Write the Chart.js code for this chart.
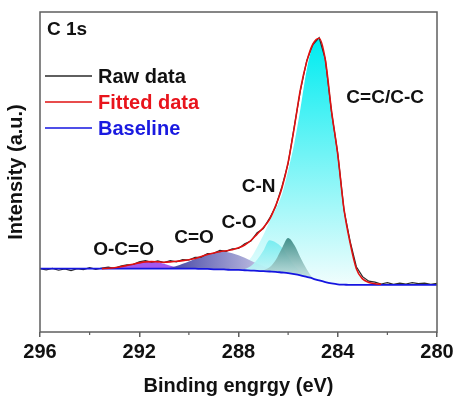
<!DOCTYPE html>
<html>
<head>
<meta charset="utf-8">
<script src="https://cdn.jsdelivr.net/npm/chart.js@4.4.0/dist/chart.umd.min.js"></script>
<style>
  html, body { margin: 0; padding: 0; background: #fff; }
</style>
</head>
<body>
<canvas id="chart" width="457" height="400"></canvas>
<script>
// binding energy (eV), 0.25 eV steps
const energy = [
  296, 295.75, 295.5, 295.25, 295, 294.75, 294.5, 294.25, 294, 293.75, 293.5, 293.25, 293,
  292.75, 292.5, 292.25, 292, 291.75, 291.5, 291.25, 291, 290.75, 290.5, 290.25, 290,
  289.75, 289.5, 289.25, 289, 288.75, 288.5, 288.25, 288, 287.75, 287.5, 287.25, 287,
  286.75, 286.5, 286.25, 286, 285.75, 285.5, 285.25, 285, 284.75, 284.5, 284.25, 284,
  283.75, 283.5, 283.25, 283, 282.75, 282.5, 282.25, 282, 281.75, 281.5, 281.25, 281,
  280.75, 280.5, 280.25, 280
];

const rawData = [
  19.8, 19.4, 19.9, 19.3, 19.7, 19.2, 19.8, 19.5, 20.1, 19.6, 20.0, 20.3, 19.9,
  20.6, 21.0, 21.1, 21.9, 22.3, 21.8, 22.2, 21.7, 22.3, 21.9, 22.6, 22.5,
  23.3, 23.4, 24.5, 24.6, 25.5, 25.2, 26.0, 26.1, 27.6, 28.4, 31.0, 32.3,
  35.5, 39.3, 45.4, 52.7, 64.3, 75.7, 84.8, 89.8, 92.0, 85.2, 68.7, 55.8,
  38.2, 28.3, 20.4, 17.3, 15.9, 15.6, 15.0, 15.4, 14.9, 15.3, 15.0, 15.4,
  15.1, 15.3, 14.9, 15.2
];

const fitted = [
  null, null, null, null, null, null, null, null, null, null, 19.8, 19.9, 20.1,
  20.4, 20.8, 21.2, 21.6, 21.9, 22.0, 21.9, 21.8, 21.9, 22.1, 22.3, 22.6,
  23.0, 23.6, 24.2, 24.7, 25.1, 25.4, 25.7, 26.3, 27.2, 28.6, 30.6, 32.6,
  35.2, 39.5, 45.0, 53.0, 64.0, 76.0, 84.5, 90.0, 91.8, 85.0, 69.0, 55.5,
  38.5, 27.8, 19.8, 16.6, 15.5, 15.1, 14.9, null, null, null, null, null,
  null, null, null, null
];

const baseline = [
  19.8, 19.8, 19.8, 19.8, 19.8, 19.8, 19.8, 19.8, 19.8, 19.8, 19.8, 19.8, 19.8,
  19.8, 19.8, 19.8, 19.8, 19.8, 19.8, 19.8, 19.8, 19.8, 19.8, 19.8, 19.8,
  19.8, 19.7, 19.7, 19.6, 19.6, 19.5, 19.4, 19.4, 19.3, 19.2, 19.1, 19.0,
  18.9, 18.8, 18.6, 18.4, 18.1, 17.7, 17.2, 16.7, 16.1, 15.6, 15.2, 14.9,
  14.8, 14.7, 14.7, 14.7, 14.7, 14.7, 14.7, 14.7, 14.7, 14.7, 14.7, 14.7,
  14.7, 14.7, 14.7, 14.7
];

// fitted components (drawn above the baseline)
const peakOCO = [
  null, null, null, null, null, null, null, null, null, null, 19.8, 19.9, 20.1,
  20.4, 20.8, 21.2, 21.6, 21.9, 22.0, 21.8, 21.3, 20.7, 20.2, 19.9, 19.8,
  null, null, null, null, null, null, null, null, null, null, null, null,
  null, null, null, null, null, null, null, null, null, null, null, null,
  null, null, null, null, null, null, null, null, null, null, null, null,
  null, null, null, null
];

const peakCdO = [
  null, null, null, null, null, null, null, null, null, null, null, null, null,
  null, null, null, null, null, null, null, 19.8, 20.1, 20.6, 21.3, 22.0,
  22.8, 23.5, 24.2, 24.7, 25.1, 25.0, 24.6, 24.0, 23.2, 22.3, 21.4, 20.6,
  19.9, 19.4, 18.9, 18.4, null, null, null, null, null, null, null, null,
  null, null, null, null, null, null, null, null, null, null, null, null,
  null, null, null, null
];

const peakCO = [
  null, null, null, null, null, null, null, null, null, null, null, null, null,
  null, null, null, null, null, null, null, null, null, null, null, null,
  null, null, null, null, null, null, null, 19.4, 19.7, 20.6, 22.6, 25.4,
  28.7, 28.0, 26.4, 23.5, 20.8, 18.9, 17.5, 16.7, null, null, null, null,
  null, null, null, null, null, null, null, null, null, null, null, null,
  null, null, null, null
];

const peakCN = [
  null, null, null, null, null, null, null, null, null, null, null, null, null,
  null, null, null, null, null, null, null, null, null, null, null, null,
  null, null, null, null, null, null, null, null, null, null, 19.1, 19.3,
  20.2, 22.5, 26.2, 29.4, 27.2, 23.2, 19.6, 16.9, 16.1, null, null, null,
  null, null, null, null, null, null, null, null, null, null, null, null,
  null, null, null, null
];

const peakCC = [
  null, null, null, null, null, null, null, null, null, null, null, null, null,
  null, null, null, null, null, null, null, null, null, null, null, null,
  null, null, null, null, 19.6, 19.8, 20.1, 20.6, 21.6, 23.2, 26.5, 30.2,
  34.5, 38.5, 43.0, 50.5, 59.0, 70.0, 82.0, 89.5, 91.5, 84.5, 69.0, 55.5,
  38.5, 27.8, 19.8, 16.4, 15.3, 14.9, 14.7, null, null, null, null, null,
  null, null, null, null
];

const xTicksMinor = [294, 290, 286, 282];

const peakNames = ['O-C=O', 'C=O', 'C-O', 'C-N', 'C=C/C-C'];
const peakLabelE = [292.63, 289.79, 287.98, 287.19, 282.09];
const peakLabelU = [25.6, 29.4, 34.1, 45.3, 73.1];

const FONT = '"Liberation Sans", Arial, sans-serif';

const pts = (vals) => energy.map((e, i) => ({ x: e, y: vals[i] }));

// vertical gradient between the top of a peak and the baseline
function vGrad(vals, top, bottom) {
  return (c) => {
    const chart = c.chart;
    if (!chart.chartArea) return bottom;
    const y = chart.scales.y;
    const hi = Math.max(...vals.filter(v => v !== null));
    const g = chart.ctx.createLinearGradient(0, y.getPixelForValue(hi), 0, y.getPixelForValue(15));
    g.addColorStop(0, top);
    g.addColorStop(1, bottom);
    return g;
  };
}

function hGrad(e0, e1, left, right) {
  return (c) => {
    const chart = c.chart;
    if (!chart.chartArea) return left;
    const x = chart.scales.x;
    const g = chart.ctx.createLinearGradient(x.getPixelForValue(e0), 0, x.getPixelForValue(e1), 0);
    g.addColorStop(0, left);
    g.addColorStop(1, right);
    return g;
  };
}

const comp = (label, vals, bg) => ({
  label: label,
  data: pts(vals),
  borderWidth: 0,
  borderColor: 'rgba(0,0,0,0)',
  backgroundColor: bg,
  fill: 1,
  pointRadius: 0,
  cubicInterpolationMode: 'monotone'
});

const decor = {
  id: 'decor',
  afterDraw(chart) {
    const { ctx, chartArea: a, scales: { x, y } } = chart;
    ctx.save();
    // frame
    ctx.strokeStyle = '#5f5f5f';
    ctx.lineWidth = 1.5;
    ctx.strokeRect(a.left, a.top, a.right - a.left, a.bottom - a.top);
    // minor ticks
    ctx.lineWidth = 1.2;
    xTicksMinor.forEach(v => {
      const px = x.getPixelForValue(v);
      ctx.beginPath();
      ctx.moveTo(px, a.bottom);
      ctx.lineTo(px, a.bottom + 3);
      ctx.stroke();
    });

    // panel name
    ctx.fillStyle = '#111';
    ctx.font = 'bold 19px ' + FONT;
    ctx.textAlign = 'left';
    ctx.textBaseline = 'middle';
    ctx.fillText('C 1s', a.left + 7, a.top + 18);

    // legend
    const items = [
      { ds: chart.data.datasets[2], text: '#111' },
      { ds: chart.data.datasets[0], text: '#e8141c' },
      { ds: chart.data.datasets[1], text: '#1a1ae0' }
    ];
    ctx.font = 'bold 20px ' + FONT;
    items.forEach((it, i) => {
      const ly = a.top + 64 + i * 26;
      ctx.strokeStyle = it.ds.borderColor;
      ctx.lineWidth = 1.6;
      ctx.beginPath();
      ctx.moveTo(a.left + 5, ly);
      ctx.lineTo(a.left + 52, ly);
      ctx.stroke();
      ctx.fillStyle = it.text;
      ctx.fillText(it.ds.label, a.left + 58, ly + 1);
    });

    // peak labels
    ctx.fillStyle = '#111';
    ctx.font = 'bold 19px ' + FONT;
    ctx.textAlign = 'center';
    peakNames.forEach((t, i) => {
      ctx.fillText(t, x.getPixelForValue(peakLabelE[i]), y.getPixelForValue(peakLabelU[i]));
    });
    ctx.restore();
  }
};

new Chart(document.getElementById('chart'), {
  type: 'line',
  data: {
    datasets: [
      { label: 'Fitted data', data: pts(fitted), borderColor: '#e01010', borderWidth: 1.6,
        pointRadius: 0, fill: false, cubicInterpolationMode: 'monotone' },
      { label: 'Baseline', data: pts(baseline), borderColor: '#1515e0', borderWidth: 1.8,
        pointRadius: 0, fill: false, cubicInterpolationMode: 'monotone' },
      { label: 'Raw data', data: pts(rawData), borderColor: '#2a2a2a', borderWidth: 1.2,
        pointRadius: 0, fill: false, tension: 0 },
      comp('C-N', peakCN, vGrad(peakCN, 'rgba(55,135,130,0.92)', 'rgba(215,236,236,0.85)')),
      comp('C-O', peakCO, vGrad(peakCO, 'rgba(115,236,240,0.95)', 'rgba(225,248,248,0.9)')),
      comp('C=O', peakCdO, hGrad(290.5, 286.3, 'rgb(80,80,170)', 'rgb(215,215,238)')),
      comp('O-C=O', peakOCO, 'rgba(155,70,235,0.9)'),
      comp('C=C/C-C', peakCC, vGrad(peakCC, 'rgb(0,236,240)', 'rgb(240,253,253)'))
    ]
  },
  options: {
    responsive: false,
    animation: false,
    layout: { padding: { top: 12, right: 20, left: 0, bottom: 0 } },
    plugins: { legend: { display: false }, tooltip: { enabled: false } },
    scales: {
      x: {
        type: 'linear',
        reverse: true,
        min: 280,
        max: 296,
        afterFit: (s) => { s.height = 68; },
        border: { display: false },
        grid: { drawOnChartArea: false, drawTicks: true, tickLength: 5, color: '#5f5f5f', lineWidth: 1.5 },
        ticks: { stepSize: 4, color: '#111', padding: 3, font: { family: FONT, size: 20, weight: 'bold' } },
        title: { display: true, text: 'Binding engrgy (eV)', color: '#111', padding: { top: 0, bottom: 2 },
          font: { family: FONT, size: 20, weight: 'bold' } }
      },
      y: {
        min: 0,
        max: 100,
        afterFit: (s) => { s.width = 40; },
        border: { display: false },
        grid: { display: false },
        ticks: { display: false },
        title: { display: true, text: 'Intensity (a.u.)', color: '#111', padding: { top: 4, bottom: 0 },
          font: { family: FONT, size: 20, weight: 'bold' } }
      }
    }
  },
  plugins: [decor]
});
</script>
</body>
</html>
